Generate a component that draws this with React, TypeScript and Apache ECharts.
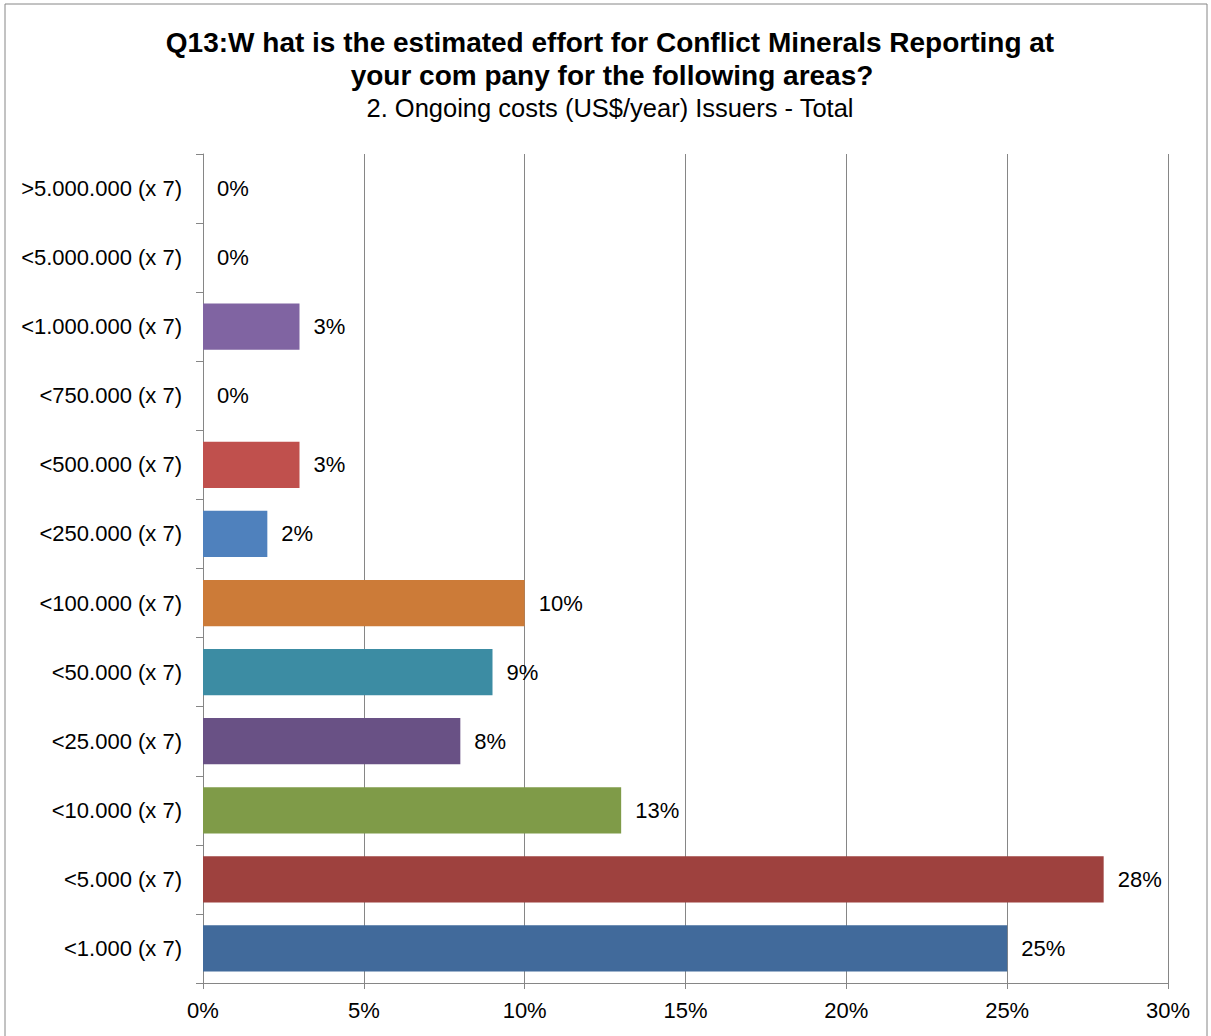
import React, { useEffect, useRef } from "react";
import * as echarts from "echarts";

const categories = [
  "<1.000 (x 7)",
  "<5.000 (x 7)",
  "<10.000 (x 7)",
  "<25.000 (x 7)",
  "<50.000 (x 7)",
  "<100.000 (x 7)",
  "<250.000 (x 7)",
  "<500.000 (x 7)",
  "<750.000 (x 7)",
  "<1.000.000 (x 7)",
  "<5.000.000 (x 7)",
  ">5.000.000 (x 7)",
];
const values = [25, 28, 13, 8, 9, 10, 2, 3, 0, 3, 0, 0];
const barColors = [
  "#416A9B",
  "#9E413E",
  "#7F9B48",
  "#695185",
  "#3C8CA3",
  "#CC7B38",
  "#4F81BD",
  "#C0504D",
  "#9BBB59",
  "#8064A2",
  "#4BACC6",
  "#F79646",
];
const xTicks = [0, 5, 10, 15, 20, 25, 30];

const titleLine1 = "Q13:W hat is the estimated effort for Conflict Minerals Reporting at";
const titleLine2 = "your com pany for the following areas?";
const subtitle = "2. Ongoing costs (US$/year) Issuers - Total";

export default function App() {
  const ref = useRef<HTMLDivElement>(null);
  useEffect(() => {
    if (!ref.current) return;
    const chart = echarts.init(ref.current, null, { renderer: "svg" });
    const font = "'Liberation Sans', Arial, sans-serif";
    chart.setOption({
      animation: false,
      backgroundColor: "#ffffff",
      textStyle: { fontFamily: font },
      graphic: [
        {
          type: "rect",
          shape: { x: 5, y: 4, width: 1202, height: 1050 },
          style: { fill: "none", stroke: "#868686", lineWidth: 1 },
          silent: true,
        },
        {
          type: "text",
          x: 610,
          y: 42,
          style: {
            text: titleLine1,
            font: `bold 28px ${font}`,
            fill: "#000",
            align: "center",
            verticalAlign: "middle",
          },
        },
        {
          type: "text",
          x: 612,
          y: 75,
          style: {
            text: titleLine2,
            font: `bold 28px ${font}`,
            fill: "#000",
            align: "center",
            verticalAlign: "middle",
          },
        },
        {
          type: "text",
          x: 610,
          y: 108,
          style: {
            text: subtitle,
            font: `25.5px ${font}`,
            fill: "#000",
            align: "center",
            verticalAlign: "middle",
          },
        },
      ],
      grid: { left: 203, right: 43, top: 154, bottom: 53, containLabel: false },
      xAxis: {
        type: "value",
        min: xTicks[0],
        max: xTicks[xTicks.length - 1],
        interval: 5,
        axisLine: { show: true, lineStyle: { color: "#868686", width: 1 } },
        axisTick: { show: true, length: 6, lineStyle: { color: "#868686" } },
        axisLabel: {
          formatter: "{value}%",
          color: "#000",
          fontSize: 22,
          margin: 16,
          fontFamily: font,
        },
        splitLine: { show: true, lineStyle: { color: "#868686", width: 1 } },
      },
      yAxis: {
        type: "category",
        data: categories,
        axisLine: { show: true, lineStyle: { color: "#868686", width: 1 } },
        axisTick: { show: true, length: 7, lineStyle: { color: "#868686" } },
        axisLabel: { color: "#000", fontSize: 22, margin: 21, fontFamily: font },
      },
      series: [
        {
          type: "bar",
          data: values.map((v, i) => ({ value: v, itemStyle: { color: barColors[i] } })),
          barCategoryGap: "33%",
          label: {
            show: true,
            position: "right",
            distance: 14,
            formatter: "{c}%",
            color: "#000",
            fontSize: 22,
            fontFamily: font,
          },
        },
      ],
    });
    return () => chart.dispose();
  }, []);
  return (
    <div
      ref={ref}
      style={{ position: "fixed", left: 0, top: 0, width: 1211, height: 1036 }}
    />
  );
}
